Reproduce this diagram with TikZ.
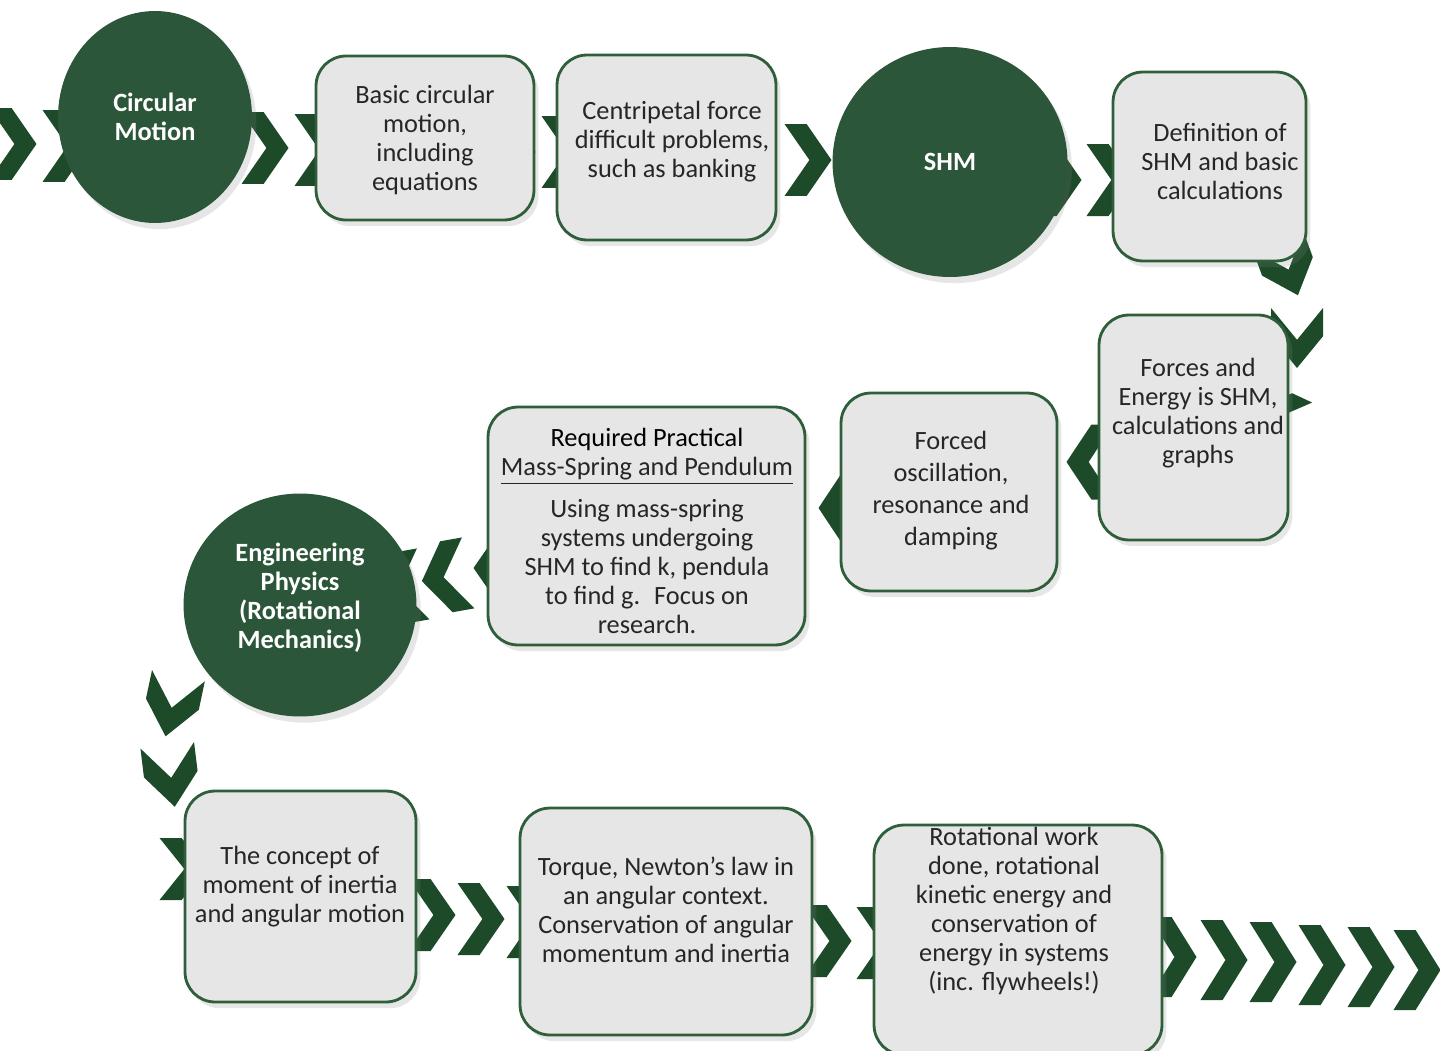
\documentclass[tikz,border=0pt]{standalone}
\usepackage{fontspec}
\setmainfont{Carlito}
\usetikzlibrary{shapes.geometric,shadows}
\definecolor{boxgreen}{HTML}{2F5E3B}
\definecolor{circgreen}{HTML}{2B563A}
\definecolor{chevgreen}{HTML}{1D4B2A}
\definecolor{boxgrey}{HTML}{E6E6E6}
\definecolor{txtgrey}{HTML}{262626}

\begin{document}
\begin{tikzpicture}[x=0.02cm,y=-0.02cm,
		box/.style={draw=boxgreen, line width=1.6pt, fill=boxgrey, rounded corners=0.6cm, inner sep=0pt,
			drop shadow={shadow xshift=2.5pt, shadow yshift=-3.5pt, opacity=0.2}},
		circ/.style={ellipse, fill=circgreen, inner sep=0pt,
			drop shadow={shadow xshift=2.5pt, shadow yshift=-3.5pt, opacity=0.2}},
		ctxt/.style={align=center, text=white, inner sep=0pt, font=\fontsize{15}{16.5}\selectfont\bfseries},
		txt/.style={align=center, text=txtgrey, inner sep=0pt, font=\fontsize{15}{16.5}\selectfont},
		chevron/.pic={\fill[chevgreen] (-0.5,-0.5) -- (-0.03,-0.5) -- (0.5,0) -- (-0.03,0.5) -- (-0.5,0.5) -- (0.03,0) -- cycle;}]
		\useasboundingbox (0,0) rectangle (1440,1051);

		% chevrons, top row
		\foreach \cx/\cy in {13/144,66/146,265/148,318/150,512/152,565/152,808/160,1058/180,1110/180}
			\pic[xscale=47,yscale=72] at (\cx,\cy) {chevron};

		% chevrons, going down on the right
		\pic[rotate=-70,xscale=58,yscale=54] at (1288,268) {chevron};
		\pic[rotate=-90,xscale=60,yscale=52] at (1297,338) {chevron};
		\pic[rotate=155,xscale=47,yscale=56] at (1279,418) {chevron};

		% chevrons, middle row (pointing left)
		\pic[rotate=180,xscale=47,yscale=75] at (1090,462) {chevron};
		\pic[rotate=180,xscale=47,yscale=75] at (842,508) {chevron};
		\pic[rotate=180,xscale=47,yscale=72] at (497,568) {chevron};
		\pic[rotate=190,xscale=47,yscale=72] at (445,577) {chevron};
		\pic[rotate=190,xscale=47,yscale=72] at (400,588) {chevron};

		% chevrons, going down on the left
		\pic[rotate=-102,xscale=62,yscale=54] at (172,706) {chevron};
		\pic[rotate=-83,xscale=62,yscale=54] at (171,776) {chevron};
		\pic[xscale=47,yscale=62] at (183,869) {chevron};

		% chevrons, bottom row
		\foreach \cx/\cy in {432/915,481/919,530/922,828/941,880/943}
			\pic[xscale=47,yscale=72] at (\cx,\cy) {chevron};
		\foreach \cx/\cy in {1173/957,1224/960,1273/962,1322/965,1371/967,1417/970}
			\pic[xscale=47,yscale=80] at (\cx,\cy) {chevron};

		% topics
		\node[circ, minimum width=3.88cm, minimum height=4.24cm] (circular) at (155,117) {};
		\node[circ, minimum width=4.7cm, minimum height=4.6cm] (shm) at (950,162) {};
		\node[circ, minimum width=4.66cm, minimum height=4.46cm] (engphys) at (300,605) {};
		\node[ctxt] (circular-t) at (155,117) {Circular\\Motion};
		\node[ctxt] (shm-t) at (950,162) {SHM};
		\node[ctxt] (engphys-t) at (300,598) {Engineering\\Physics\\(Rotational\\Mechanics)};

		% boxes
		\node[box, minimum width=4.36cm, minimum height=3.28cm] (basic) at (425,138) {};
		\node[box, minimum width=4.38cm, minimum height=3.7cm] (centri) at (666.5,147.5) {};
		\node[box, minimum width=3.86cm, minimum height=3.78cm] (shmdef) at (1209.5,166.5) {};
		\node[box, minimum width=3.78cm, minimum height=4.5cm] (forces) at (1193.5,427.5) {};
		\node[box, minimum width=4.32cm, minimum height=3.96cm] (forced) at (949,492) {};
		\node[box, minimum width=6.34cm, minimum height=4.76cm] (practical) at (646.5,526) {};
		\node[box, minimum width=4.62cm, minimum height=4.22cm] (inertia) at (300.5,896.5) {};
		\node[box, minimum width=5.84cm, minimum height=4.54cm] (torque) at (666,921.5) {};
		\node[box, minimum width=5.76cm, minimum height=4.6cm] (rotwork) at (1018,940) {};

		% box texts
		\node[txt] (basic-t) at (425,140) {Basic circular\\motion,\\including\\equations};
		\node[txt] (centri-t) at (672,142) {Centripetal force\\difficult problems,\\such as banking};
		\node[txt] (shmdef-t) at (1220,161) {Definition of\\SHM and basic\\calculations};
		\node[txt] (forces-t) at (1198,413) {Forces and\\Energy is SHM,\\calculations and\\graphs};
		\node[txt, font=\fontsize{15}{18.2}\selectfont] (forced-t) at (951,491) {Forced\\oscillation,\\resonance and\\damping};
		\node[txt] (practical-t) at (647,531) {{\color{black}Required Practical}\\\underline{Mass-Spring and Pendulum}\\[7pt]Using mass-spring\\systems undergoing\\SHM to find k, pendula\\to find g.~ Focus on\\research.};
		\node[txt] (inertia-t) at (300,887) {The concept of\\moment of inertia\\and angular motion};
		\node[txt] (torque-t) at (666,910) {Torque, Newton’s law in\\an angular context.\\Conservation of angular\\momentum and inertia};
		\node[txt] (rotwork-t) at (1014,911) {Rotational work\\done, rotational\\kinetic energy and\\conservation of\\energy in systems\\(inc. flywheels!)};
	\end{tikzpicture}
\end{document}
